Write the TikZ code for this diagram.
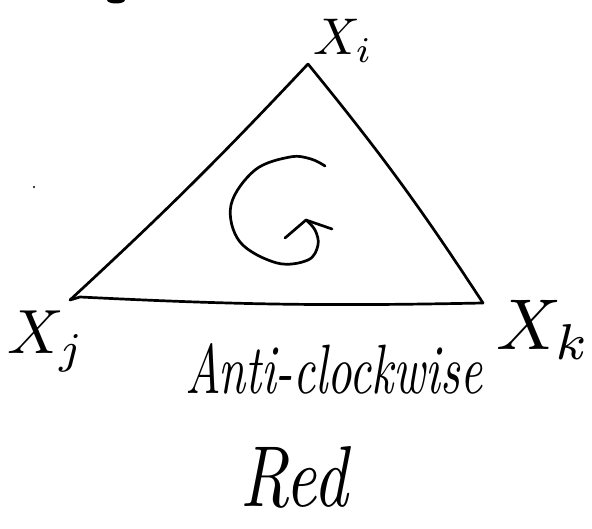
\documentclass[tikz,border=0pt]{standalone}
\usepackage{graphicx}
\tikzset{
  pen/.style={line width=2.7pt, line cap=round, line join=round, black},
  lbl/.style={inner sep=0pt, outer sep=0pt, anchor=north west},
}
\begin{document}
\begin{tikzpicture}[x=1pt,y=-1pt]
\useasboundingbox (0,0) rectangle (592,529);
% triangle corners
\coordinate (vi) at (308,64);
\coordinate (vj) at (70,300);
\coordinate (vk) at (483,303);
\coordinate (hook) at (80,297);
% triangle sides
\draw[pen] (vj) to[bend right=2] (vi);
\draw[pen] (vi) to[bend left=3] (vk);
\draw[pen] (vj) -- (hook) to[bend right=2] (vk);
% circular arrow
\coordinate (cs) at (325,166);
\coordinate (ct) at (306,220);
\draw[pen] plot[smooth, tension=0.6] coordinates {(325,166) (311,159) (290,157) (255,170) (231,205) (240,242) (277,263) (308,260) (318,245) (315,230) (306,220)};
\coordinate (bl) at (285,238);
\coordinate (br) at (332,229);
\draw[pen] (bl) -- (ct) -- (br);
% labels
\node[lbl] (lxi) at (313,19) {\resizebox{60pt}{!}{$X_i$}};
\node[lbl] (lxj) at (7,311) {\resizebox{78pt}{!}{$X_j$}};
\node[lbl] (lxk) at (496,300) {\resizebox{95pt}{!}{$X_k$}};
\node[lbl] (anti) at (185,343) {\resizebox{297pt}{50pt}{\itshape Anti-clockwise}};
\node[lbl] (red) at (240,446) {\resizebox{108pt}{60pt}{\itshape Red}};
% specks from the scan
\fill (116,0) ellipse (9pt and 3.5pt);
\fill (34,187) circle (1.2pt);
\end{tikzpicture}
\end{document}
